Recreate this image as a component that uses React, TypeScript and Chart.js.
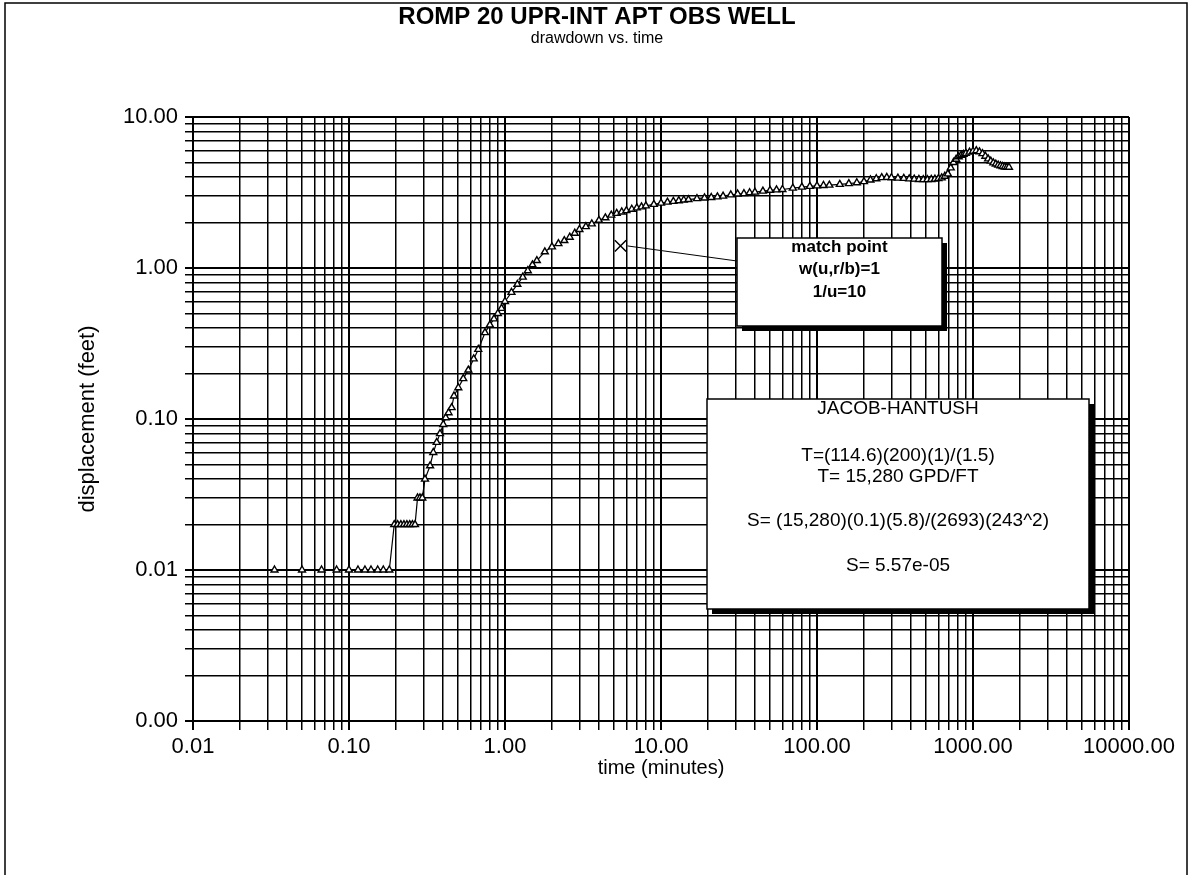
import React, { useEffect, useRef } from 'react';
import { Chart, registerables } from 'chart.js';

Chart.register(...registerables);

// ---- data ----
const timeMin = [
  0.0333, 0.05, 0.0667, 0.0833, 0.1, 0.1142, 0.1266, 0.1384, 0.1528, 0.166, 0.1813,
  0.195, 0.205, 0.215, 0.225, 0.235, 0.245, 0.255, 0.265,
  0.275, 0.285, 0.295,
  0.307, 0.331, 0.347, 0.365, 0.383, 0.402, 0.417, 0.435, 0.455, 0.471, 0.502, 0.54, 0.582, 0.63, 0.674, 0.744,
  0.8, 0.85, 0.9, 0.95, 1.0, 1.1, 1.2, 1.3, 1.4, 1.5, 1.6, 1.8, 2.0, 2.2, 2.4, 2.6, 2.8, 3.0,
  3.3, 3.6, 4.0, 4.4, 4.8, 5.2, 5.6, 6, 6.5, 7, 7.5, 8, 9, 10, 11, 12, 13, 14, 15, 17, 19,
  21, 23, 25, 28, 31, 34, 37, 40, 45, 50, 55, 60, 70, 80, 90, 100, 110, 120, 140, 160, 180,
  200, 220, 240, 260, 280, 300, 330, 360, 390, 420, 450, 480, 510, 540, 570, 600, 630, 660, 690, 720, 750,
  780, 810, 840, 870, 900, 950, 1000, 1050, 1100, 1150, 1200, 1250, 1300, 1350, 1400, 1450, 1500, 1550, 1600, 1650, 1700,
];

const drawdownFt = [
  0.01, 0.01, 0.01, 0.01, 0.01, 0.01, 0.01, 0.01, 0.01, 0.01, 0.01,
  0.02, 0.02, 0.02, 0.02, 0.02, 0.02, 0.02, 0.02,
  0.03, 0.03, 0.03,
  0.040, 0.049, 0.060, 0.070, 0.080, 0.092, 0.102, 0.110, 0.119, 0.142, 0.161, 0.185, 0.211, 0.250, 0.289, 0.373,
  0.42, 0.46, 0.50, 0.54, 0.60, 0.69, 0.78, 0.87, 0.96, 1.05, 1.12, 1.28, 1.38, 1.45, 1.52, 1.60, 1.70, 1.80,
  1.88, 1.96, 2.07, 2.15, 2.24, 2.30, 2.35, 2.40, 2.45, 2.50, 2.54, 2.58, 2.64, 2.69, 2.73, 2.76, 2.79, 2.82, 2.84, 2.88, 2.91,
  2.93, 2.96, 2.99, 3.05, 3.09, 3.11, 3.15, 3.18, 3.23, 3.27, 3.29, 3.31, 3.38, 3.43, 3.47, 3.50, 3.52, 3.54, 3.58, 3.62, 3.67,
  3.73, 3.83, 3.90, 3.97, 3.98, 3.96, 3.94, 3.92, 3.89, 3.88, 3.86, 3.85, 3.85, 3.86, 3.88, 3.91, 3.95, 4.05, 4.20, 4.60, 5.00,
  5.25, 5.45, 5.58, 5.66, 5.74, 5.85, 5.93, 5.98, 5.88, 5.72, 5.50, 5.28, 5.10, 4.97, 4.88, 4.80, 4.75, 4.70, 4.67, 4.65, 4.65,
];

const matchTime = [5.5];
const matchDrawdown = [1.4];

const xTickValues = [0.01, 0.1, 1, 10, 100, 1000, 10000];
const xTickLabels = ['0.01', '0.10', '1.00', '10.00', '100.00', '1000.00', '10000.00'];
const yTickValues = [0.001, 0.01, 0.1, 1, 10];
const yTickLabels = ['0.00', '0.01', '0.10', '1.00', '10.00'];

const chartTitle = 'ROMP 20 UPR-INT APT OBS WELL';
const chartSubtitle = 'drawdown vs. time';
const xAxisTitle = 'time (minutes)';
const yAxisTitle = 'displacement (feet)';
const matchBoxLines = ['match point', 'w(u,r/b)=1', '1/u=10'];
const jacobBoxLines = [
  'JACOB-HANTUSH',
  'T=(114.6)(200)(1)/(1.5)',
  'T= 15,280 GPD/FT',
  'S= (15,280)(0.1)(5.8)/(2693)(243^2)',
  'S= 5.57e-05',
];

// ---- layout / style ----
const W = 1192;
const H = 875;
const FONT = '"Liberation Sans", Arial, Helvetica, sans-serif';
const CA = { left: 193, top: 117, right: 1129, bottom: 721 };
const matchBox = { x: 737, y: 238, w: 205, h: 88, lineOffsets: [9, 31, 54] };
const jacobBox = { x: 707, y: 399, w: 382, h: 210, lineOffsets: [10, 57, 78, 122, 167] };

function gridTicks(decades: number[]) {
  const out: { value: number }[] = [];
  for (let i = 0; i < decades.length - 1; i++) {
    for (let m = 1; m <= 9; m++) out.push({ value: decades[i] * m });
  }
  out.push({ value: decades[decades.length - 1] });
  return out;
}

function decadeIndex(decades: number[], v: number) {
  return decades.findIndex((d) => Math.abs(Math.log10(d) - Math.log10(v)) < 1e-6);
}

function drawBox(ctx: CanvasRenderingContext2D, b: any, lines: string[], font: string) {
  ctx.save();
  ctx.fillStyle = '#000';
  ctx.fillRect(b.x + 5, b.y + 5, b.w, b.h);
  ctx.fillStyle = '#fff';
  ctx.fillRect(b.x, b.y, b.w, b.h);
  ctx.strokeStyle = '#000';
  ctx.lineWidth = 1.5;
  ctx.strokeRect(b.x, b.y, b.w, b.h);
  ctx.fillStyle = '#000';
  ctx.font = font;
  ctx.textAlign = 'center';
  ctx.textBaseline = 'middle';
  lines.forEach((t, i) => ctx.fillText(t, b.x + b.w / 2, b.y + b.lineOffsets[i]));
  ctx.restore();
}

const decorPlugin = {
  id: 'decor',
  afterDatasetsDraw(chart: any) {
    const ctx = chart.ctx as CanvasRenderingContext2D;
    const xs = chart.scales.x;
    const ys = chart.scales.y;
    const px = xs.getPixelForValue(matchTime[0]);
    const py = ys.getPixelForValue(matchDrawdown[0]);
    ctx.save();
    ctx.strokeStyle = '#000';
    ctx.lineWidth = 1;
    ctx.beginPath();
    ctx.moveTo(px + 7, py);
    ctx.lineTo(matchBox.x, matchBox.y + 23);
    ctx.stroke();
    ctx.restore();
    drawBox(ctx, matchBox, matchBoxLines, `bold 17px ${FONT}`);
    drawBox(ctx, jacobBox, jacobBoxLines, `19px ${FONT}`);
  },
  afterDraw(chart: any) {
    const ctx = chart.ctx as CanvasRenderingContext2D;
    ctx.save();
    ctx.fillStyle = '#000';
    ctx.textAlign = 'center';
    ctx.textBaseline = 'middle';
    ctx.font = `bold 24px ${FONT}`;
    ctx.fillText(chartTitle, 597, 17);
    ctx.font = `16px ${FONT}`;
    ctx.fillText(chartSubtitle, 597, 39);
    ctx.strokeStyle = '#000';
    ctx.lineWidth = 1.5;
    ctx.beginPath();
    ctx.moveTo(5, H);
    ctx.lineTo(5, 3);
    ctx.lineTo(1187, 3);
    ctx.lineTo(1187, H);
    ctx.stroke();
    ctx.restore();
  },
};

export default function App() {
  const ref = useRef<HTMLCanvasElement>(null);

  useEffect(() => {
    if (!ref.current) return;
    const gridWidth = (decades: number[]) => (c: any) =>
      c.tick && decadeIndex(decades, c.tick.value) >= 0 ? 2 : 1.5;
    const chart = new Chart(ref.current, {
      type: 'line',
      data: {
        datasets: [
          {
            label: 'drawdown',
            data: timeMin.map((t, i) => ({ x: t, y: drawdownFt[i] })),
            borderColor: '#000',
            borderWidth: 1.2,
            pointStyle: 'triangle',
            pointRadius: 4,
            pointBackgroundColor: '#fff',
            pointBorderColor: '#000',
            pointBorderWidth: 1.4,
            tension: 0,
          },
          {
            label: 'match point',
            data: matchTime.map((t, i) => ({ x: t, y: matchDrawdown[i] })),
            showLine: false,
            pointStyle: 'crossRot',
            pointRadius: 8,
            pointBorderColor: '#000',
            pointBorderWidth: 1.5,
          },
        ],
      },
      options: {
        responsive: false,
        animation: false,
        events: [],
        layout: { padding: { top: CA.top, left: 0, right: W - CA.right, bottom: 0 } },
        plugins: { legend: { display: false }, tooltip: { enabled: false }, title: { display: false } },
        scales: {
          x: {
            type: 'logarithmic',
            min: 0.01,
            max: 10000,
            afterBuildTicks: (s: any) => { s.ticks = gridTicks(xTickValues); },
            afterFit: (s: any) => { s.height = H - CA.bottom; },
            ticks: {
              autoSkip: false,
              maxRotation: 0,
              minRotation: 0,
              padding: 4,
              color: '#000',
              font: { family: FONT, size: 22 },
              callback: (v: any) => {
                const i = decadeIndex(xTickValues, Number(v));
                return i >= 0 ? xTickLabels[i] : '';
              },
            },
            grid: { color: '#000', lineWidth: gridWidth(xTickValues), tickLength: 9, drawOnChartArea: true },
            border: { color: '#000', width: 2 },
            title: {
              display: true,
              text: xAxisTitle,
              color: '#000',
              font: { family: FONT, size: 20 },
              padding: { top: 0, bottom: 95 },
            },
          },
          y: {
            type: 'logarithmic',
            min: 0.001,
            max: 10,
            afterBuildTicks: (s: any) => { s.ticks = gridTicks(yTickValues); },
            afterFit: (s: any) => { s.width = CA.left; },
            ticks: {
              autoSkip: false,
              padding: 7,
              color: '#000',
              font: { family: FONT, size: 22 },
              callback: (v: any) => {
                const i = decadeIndex(yTickValues, Number(v));
                return i >= 0 ? yTickLabels[i] : '';
              },
            },
            grid: { color: '#000', lineWidth: gridWidth(yTickValues), tickLength: 8 },
            border: { color: '#000', width: 2 },
            title: {
              display: true,
              text: yAxisTitle,
              color: '#000',
              font: { family: FONT, size: 22 },
              padding: { top: 75, bottom: 0 },
            },
          },
        },
      },
      plugins: [decorPlugin],
    });
    return () => chart.destroy();
  }, []);

  return (
    <div style={{ position: 'absolute', left: 0, top: 0, width: W, height: H, background: '#fff' }}>
      <canvas ref={ref} width={W} height={H} style={{ display: 'block', width: W, height: H }} />
    </div>
  );
}
